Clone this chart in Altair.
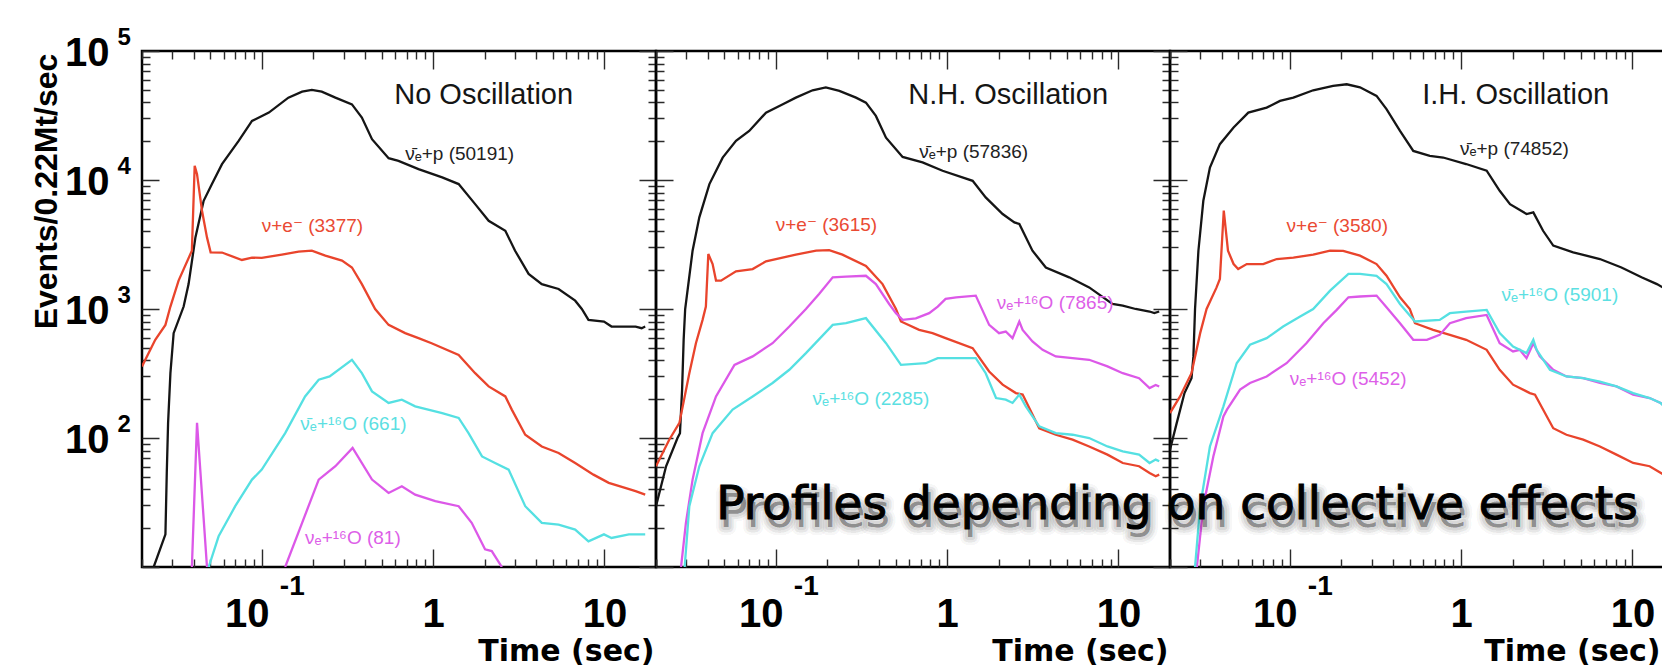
import altair as alt
import pandas as pd

# ---------------- data ----------------
# Panel 1 : No Oscillation
P1_BLACK_T = [0.0234, 0.0274, 0.0279, 0.0284, 0.0293, 0.0306, 0.035, 0.0374, 0.041, 0.0458, 0.0512, 0.0586, 0.0733,
              0.0877, 0.110, 0.143, 0.172, 0.196, 0.224, 0.269, 0.336, 0.384, 0.440, 0.550, 0.628, 0.822, 1.13, 1.41,
              1.76, 2.11, 2.64, 3.01, 3.61, 4.31, 5.40, 6.75, 7.38, 8.07, 9.94, 11.0, 15.2, 16.5, 17.3]
P1_BLACK_V = [10, 17.9, 53.6, 131, 318, 650, 1045, 1560, 3590, 6900, 9300, 13270, 20100,
              28700, 33300, 43500, 48400, 49900, 48400, 43500, 38600, 30500, 20700, 14760, 14080, 12130, 10470, 9300,
              6500, 4830, 4040, 2830, 1870, 1560, 1430, 1160, 1000, 824, 800, 731, 731, 710, 731]
P1_RED_T = [0.02, 0.0239, 0.0274, 0.0293, 0.0327, 0.0391, 0.0406, 0.0419, 0.0448, 0.0479, 0.0503, 0.0586, 0.0766,
            0.0877, 0.100, 0.131, 0.164, 0.196, 0.235, 0.294, 0.336, 0.384, 0.459, 0.550, 0.687, 0.822, 0.98, 1.41,
            1.76, 2.11, 2.64, 2.88, 3.45, 4.31, 5.40, 6.75, 8.63, 10.6, 13.2, 15.2, 17.3]
P1_RED_V = [359, 577, 753, 1045, 1660, 2830, 12880, 11100, 5780, 3590, 2750, 2740, 2400,
            2500, 2490, 2640, 2780, 2830, 2590, 2370, 2100, 1560, 1000, 753, 650, 594, 543, 441,
            318, 251, 210, 166, 106, 86, 76.6, 64, 52, 44.9, 41, 38.7, 36.4]
P1_CYAN_T = [0.049, 0.056, 0.070, 0.0877, 0.100, 0.137, 0.179, 0.215, 0.249, 0.336, 0.384, 0.44, 0.55, 0.657, 0.786,
             1.13, 1.41, 1.61, 1.93, 2.30, 2.76, 3.45, 4.31, 5.40, 6.75, 8.07, 9.94, 11.0, 13.9, 17.3]
P1_CYAN_V = [10, 17.3, 29.6, 47.6, 56.9, 109, 210, 283, 300, 404, 318, 230, 187, 198, 176,
             156, 143, 109, 72, 64, 56.9, 29.6, 22, 21.3, 19.5, 15.8, 17.9, 16.8, 17.9, 17.9]
P1_MAG_SPIKE_T = [0.0391, 0.0419, 0.0479]
P1_MAG_SPIKE_V = [10, 131, 10]
P1_MAG_T = [0.137, 0.172, 0.215, 0.269, 0.339, 0.44, 0.55, 0.657, 0.786, 1.03, 1.41, 1.68, 2.01, 2.2, 2.52]
P1_MAG_V = [10, 22, 47.6, 60.4, 83.7, 47.6, 37.5, 42.3, 36.4, 32.4, 29.6, 22, 13.7, 13.3, 10]

# Panel 2 : N.H. Oscillation
P2_BLACK_T = [0.02, 0.0229, 0.0267, 0.0276, 0.0284, 0.029, 0.0296, 0.0327, 0.0358, 0.041, 0.049, 0.0586, 0.070,
              0.0877, 0.110, 0.131, 0.164, 0.196, 0.235, 0.294, 0.336, 0.384, 0.44, 0.55, 0.719, 0.941, 1.41, 1.68,
              2.11, 2.47, 2.64, 3.15, 3.77, 5.16, 6.75, 9.23, 10.6, 12.6, 15.2, 16.2, 17.3]
P2_BLACK_V = [29.6, 60.4, 100, 109, 237, 577, 1000, 2830, 5130, 9300, 14900, 20100, 24000,
              33300, 38600, 43500, 49600, 52300, 49000, 43500, 39800, 31400, 21300, 15100, 13700, 11800, 9860, 7330,
              5450, 4690, 4560, 2830, 2100, 1760, 1470, 1094, 1060, 1000, 956, 930, 956]
P2_RED_T = [0.02, 0.0239, 0.0274, 0.0313, 0.0342, 0.0374, 0.0391, 0.0404, 0.0428, 0.0448, 0.0479, 0.0586, 0.0733,
            0.0877, 0.131, 0.172, 0.205, 0.245, 0.336, 0.42, 0.503, 0.538, 0.687, 0.822, 0.98, 1.41, 1.76, 2.11,
            2.52, 2.76, 3.45, 4.31, 5.4, 6.75, 8.63, 10.6, 13.2, 15.2, 16.5, 17.3]
P2_RED_V = [60.4, 97, 131, 318, 543, 824, 1045, 2670, 2230, 1660, 1660, 1960, 2040,
            2340, 2640, 2830, 2860, 2640, 2160, 1560, 1000, 800, 689, 650, 594, 497, 328, 259,
            223, 217, 119, 106, 97, 86, 74.3, 64, 60.4, 53.6, 50.5, 52]
P2_MAG_T = [0.028, 0.0299, 0.0327, 0.0374, 0.0448, 0.0574, 0.0733, 0.0958, 0.12, 0.15, 0.179, 0.215, 0.257, 0.336,
            0.384, 0.459, 0.503, 0.55, 0.657, 0.786, 0.882, 0.98, 1.13, 1.47, 1.76, 2.01, 2.2, 2.41, 2.64, 2.76,
            3.15, 3.61, 4.31, 5.4, 6.75, 8.63, 10.6, 13.2, 15.2, 16.5, 17.3]
P2_MAG_V = [10, 22, 47.6, 109, 210, 369, 429, 543, 731, 1000, 1309, 1760, 1780, 1810,
            1560, 1094, 928, 824, 845, 928, 1045, 1197, 1230, 1270, 753, 650, 669, 594, 800, 689,
            560, 483, 429, 416, 404, 359, 318, 291, 244, 258, 251]
P2_CYAN_T = [0.0294, 0.0313, 0.0358, 0.0428, 0.056, 0.0733, 0.0958, 0.12, 0.15, 0.215, 0.257, 0.336, 0.44, 0.538,
             0.75, 0.882, 1.13, 1.47, 1.68, 1.93, 2.2, 2.41, 2.64, 2.88, 3.45, 4.31, 5.4, 6.75, 8.63, 10.6,
             13.2, 15.2, 16.5, 17.3]
P2_CYAN_V = [10, 29.6, 60.4, 109, 166, 210, 267, 338, 455, 753, 776, 849, 543, 369,
             380, 416, 416, 416, 318, 204, 198, 187, 217, 176, 123, 109, 106, 100, 86, 78.9,
             74.3, 64, 68, 66]

# Panel 3 : I.H. Oscillation
P3_BLACK_T = [0.02, 0.0219, 0.0243, 0.0267, 0.0274, 0.028, 0.0293, 0.0313, 0.0342, 0.0391, 0.047, 0.0573, 0.0733,
              0.0877, 0.105, 0.137, 0.179, 0.215, 0.257, 0.321, 0.367, 0.44, 0.526, 0.657, 0.786, 1.07, 1.41, 1.68,
              1.93, 2.41, 2.64, 3.01, 3.45, 4.51, 6.46, 8.63, 11.3, 13.9, 15.9, 17.0, 17.8]
P3_BLACK_V = [81, 131, 223, 291, 429, 1000, 2830, 6900, 12500, 18960, 25500, 33300, 36400,
              41000, 43500, 49600, 53600, 55200, 52300, 44900, 35400, 24000, 16800, 15400, 14940, 13300, 11800, 8250,
              6500, 5450, 5610, 4040, 3100, 2750, 2440, 2100, 1760, 1560, 1406, 1430, 1390]
P3_RED_T = [0.02, 0.0229, 0.0267, 0.03, 0.0327, 0.0374, 0.0391, 0.0412, 0.0436, 0.047, 0.05, 0.0561, 0.07, 0.084,
            0.105, 0.137, 0.172, 0.205, 0.257, 0.321, 0.367, 0.44, 0.502, 0.538, 0.687, 0.86, 1.07, 1.41, 1.68,
            2.01, 2.52, 2.7, 3.45, 4.12, 5.16, 6.46, 8.07, 10.1, 12.6, 15.2, 16.5, 17.3]
P3_RED_V = [156, 210, 318, 650, 1000, 1470, 1710, 5800, 2830, 2230, 2040, 2230, 2230, 2440,
            2500, 2640, 2830, 2820, 2590, 2230, 1810, 1233, 1000, 776, 689, 631, 577, 483, 338,
            259, 223, 217, 119, 106, 97, 86, 74.3, 64, 60.4, 52, 49, 50.5]
P3_MAG_T = [0.0287, 0.0313, 0.0358, 0.041, 0.043, 0.0513, 0.0586, 0.0733, 0.0958, 0.125, 0.157, 0.188, 0.22, 0.257,
            0.321, 0.367, 0.44, 0.526, 0.631, 0.75, 0.86, 1.07, 1.41, 1.68, 2.01, 2.2, 2.41, 2.64, 2.88, 3.45,
            4.12, 5.16, 6.46, 8.07, 10.1, 12.6, 14.6, 15.9, 17.0]
P3_MAG_V = [10, 29.6, 72, 147, 166, 237, 267, 300, 380, 543, 776, 984, 1233, 1250,
            1270, 1030, 776, 577, 577, 630, 776, 848, 900, 543, 469, 483, 416, 543, 429, 338,
            300, 291, 267, 251, 217, 204, 187, 170, 176]
P3_CYAN_T = [0.028, 0.03, 0.0342, 0.041, 0.049, 0.0586, 0.0733, 0.0915, 0.115, 0.137, 0.172, 0.22, 0.257, 0.321,
             0.367, 0.44, 0.538, 0.75, 0.86, 1.07, 1.41, 1.68, 2.01, 2.2, 2.41, 2.64, 2.76, 3.3, 4.12, 5.16,
             6.46, 8.07, 10.1, 12.6, 14.6, 15.9, 17.0]
P3_CYAN_V = [10, 29.6, 86, 176, 380, 528, 594, 731, 874, 1000, 1388, 1870, 1870, 1810,
             1560, 1094, 800, 824, 928, 956, 984, 650, 512, 483, 455, 577, 483, 338, 300, 291,
             274, 251, 223, 204, 187, 166, 176]

# annotation texts (label, series, t, v) per panel
NUBAR = "\u03bd\u0304\u2091"
NUE = "\u03bd\u2091"
O16 = "\u00b9\u2076O"
PANEL_TITLES = ["No Oscillation", "N.H. Oscillation", "I.H. Oscillation"]
TITLE_T = 0.593
TITLE_V = 39100
ANN = [
    [(NUBAR + "+p (50191)", "black", 0.687, 14250),
     ("\u03bd+e\u207b (3377)", "red", 0.100, 3930),
     (NUBAR + "+" + O16 + " (661)", "cyan", 0.168, 114.6),
     (NUE + "+" + O16 + " (81)", "magenta", 0.179, 15.2)],
    [(NUBAR + "+p (57836)", "black", 0.687, 14940),
     ("\u03bd+e\u207b (3615)", "red", 0.100, 4040),
     (NUE + "+" + O16 + " (7865)", "magenta", 1.95, 1007),
     (NUBAR + "+" + O16 + " (2285)", "cyan", 0.164, 181)],
    [(NUBAR + "+p (74852)", "black", 0.984, 15670),
     ("\u03bd+e\u207b (3580)", "red", 0.0958, 3930),
     (NUBAR + "+" + O16 + " (5901)", "cyan", 1.72, 1160),
     (NUE + "+" + O16 + " (5452)", "magenta", 0.100, 259)],
]
OVERLAY_TEXT = "Profiles depending on collective effects"
OVERLAY_T = 4.5e-5   # lies left of panel 3 (log-scale extrapolation)
OVERLAY_V = 23.4

PANELS = [
    {"black": [(P1_BLACK_T, P1_BLACK_V)], "red": [(P1_RED_T, P1_RED_V)],
     "magenta": [(P1_MAG_SPIKE_T, P1_MAG_SPIKE_V), (P1_MAG_T, P1_MAG_V)], "cyan": [(P1_CYAN_T, P1_CYAN_V)]},
    {"black": [(P2_BLACK_T, P2_BLACK_V)], "red": [(P2_RED_T, P2_RED_V)],
     "magenta": [(P2_MAG_T, P2_MAG_V)], "cyan": [(P2_CYAN_T, P2_CYAN_V)]},
    {"black": [(P3_BLACK_T, P3_BLACK_V)], "red": [(P3_RED_T, P3_RED_V)],
     "magenta": [(P3_MAG_T, P3_MAG_V)], "cyan": [(P3_CYAN_T, P3_CYAN_V)]},
]

# ---------------- styling ----------------
H = 516
# the third panel is cut by the right edge of the slide: same scale, shorter visible range
PANEL_W = [514, 514, 492]
X_MAX = [20, 20, 14.88]
YS = alt.Scale(type="log", domain=[10, 100000], nice=False)
COLORS = {"black": "#151515", "red": "#e9442c", "magenta": "#dc58e8", "cyan": "#55e0e2"}
LABEL_COLORS = {"black": "#222222", "red": "#ea4a33", "magenta": "#dd5fe8", "cyan": "#5cdfe2"}
SERIES_ORDER = ["black", "red", "magenta", "cyan"]
LABEL_SCALE = alt.Scale(domain=SERIES_ORDER, range=[LABEL_COLORS[s] for s in SERIES_ORDER])
BOLD = "Liberation Sans"
LFONT = "Liberation Sans, DejaVu Sans"
TICKC = "#2a2a2a"

X_MAJ = [0.1, 1, 10]
X_MIN = [0.02, 0.03, 0.04, 0.05, 0.06, 0.07, 0.08, 0.09, 0.2, 0.3, 0.4, 0.5, 0.6, 0.7, 0.8, 0.9,
         2, 3, 4, 5, 6, 7, 8, 9, 20]
Y_DEC = [100, 1000, 10000, 100000]
Y_MIN = [m * d for d in (10, 100, 1000, 10000) for m in range(2, 10)]
IS_DEC = "abs(log(datum.value) / LN10 - round(log(datum.value) / LN10)) < 0.000001"

COMMON = dict(ticks=False, tickSize=0, domain=False, labelFlush=False, labelOverlap=False, labelBound=False,
              grid=True, gridColor=TICKC, gridWidth=1.4)


def x_axes(w, xmax):
    lab = alt.Axis(orient="bottom", values=X_MAJ,
                   labelExpr="datum.value < 0.5 ? '10' : (datum.value < 5 ? '1' : '10')",
                   labelFont=BOLD, labelFontWeight="bold", labelFontSize=40, labelColor="black",
                   labelBaseline="alphabetic", labelAlign="center", labelPadding=59,
                   labelOffset={"condition": {"test": "datum.value < 0.5", "value": -15}, "value": 0},
                   gridDash=[18, H - 36],
                   title="Time (sec)", titleFont="DejaVu Sans", titleFontWeight="bold", titleFontSize=30,
                   titleColor="black", titleX=w - 2, titleY=93, titleAlign="right",
                   titleBaseline="alphabetic", titleAngle=0, **COMMON)
    exp = alt.Axis(orient="bottom", values=[0.1] + [v for v in X_MIN if v <= xmax],
                   labelExpr="abs(datum.value - 0.1) < 0.000001 ? '-1' : ''",
                   labelFont=BOLD, labelFontWeight="bold", labelFontSize=28, labelColor="black",
                   labelBaseline="alphabetic", labelAlign="center", labelPadding=27, labelOffset=30,
                   gridDash=[8, H - 16],
                   gridOpacity={"condition": {"test": "abs(datum.value - 0.1) < 0.000001", "value": 0},
                                "value": 1},
                   title=None, **COMMON)
    return lab, exp


def y_axes(show, w, both_sides):
    maj_dash = [17, w - 34] if both_sides else [17, 3000]
    min_dash = [8, w - 16] if both_sides else [8, 3000]
    lab = alt.Axis(orient="left", values=[10] + Y_DEC,
                   labelExpr="datum.value < 50 ? '' : '10'" if show else "''",
                   labelFont=BOLD, labelFontWeight="bold", labelFontSize=40, labelColor="black",
                   labelAlign="right", labelBaseline="middle", labelPadding=33, labelOffset=2,
                   gridDash=maj_dash,
                   title="Events/0.22Mt/sec" if show else None,
                   titleFont=BOLD, titleFontWeight="bold", titleFontSize=32,
                   titleColor="black", titleAngle=270, titleX=-86, titleY=140, titleAlign="center",
                   titleBaseline="alphabetic", **COMMON)
    exp = alt.Axis(orient="left", values=Y_DEC + Y_MIN,
                   labelExpr=(IS_DEC + " ? '' + round(log(datum.value) / LN10) : ''") if show else "''",
                   labelFont=BOLD, labelFontWeight="bold", labelFontSize=24, labelColor="black",
                   labelAlign="left", labelBaseline="middle", labelPadding=25, labelOffset=-14,
                   gridDash=min_dash,
                   gridOpacity={"condition": {"test": IS_DEC, "value": 0}, "value": 1},
                   title=None, **COMMON)
    return lab, exp


def build_panel(i):
    series = PANELS[i]
    w = PANEL_W[i]
    xs = alt.Scale(type="log", domain=[0.02, X_MAX[i]], nice=False)
    x_lab, x_exp = x_axes(w, X_MAX[i])
    y_lab, y_exp = y_axes(i == 0, w, i < 2)
    xax = [x_lab, x_exp, None, None]
    yax = [y_lab, y_exp, None, None]

    layers = []
    for k, name in enumerate(SERIES_ORDER):
        rows = []
        for seg, (ts, vs) in enumerate(series[name]):
            for t, v in zip(ts, vs):
                rows.append({"t": t, "v": v, "seg": seg})
        df = pd.DataFrame(rows)
        layers.append(
            alt.Chart(df).mark_line(color=COLORS[name], strokeWidth=2.3, clip=True).encode(
                x=alt.X("t:Q", scale=xs, axis=xax[k]),
                y=alt.Y("v:Q", scale=YS, axis=yax[k]),
                detail="seg:N",
            )
        )

    tdf = pd.DataFrame({"t": [TITLE_T], "v": [TITLE_V], "label": [PANEL_TITLES[i]]})
    layers.append(
        alt.Chart(tdf).mark_text(align="left", baseline="alphabetic", font=LFONT, fontSize=29,
                                 color="#151515").encode(
            x=alt.X("t:Q", scale=xs, axis=None),
            y=alt.Y("v:Q", scale=YS, axis=None),
            text="label:N",
        )
    )

    adf = pd.DataFrame(ANN[i], columns=["label", "series", "t", "v"])
    layers.append(
        alt.Chart(adf).mark_text(align="left", baseline="alphabetic", font=LFONT, fontSize=19).encode(
            x=alt.X("t:Q", scale=xs, axis=None),
            y=alt.Y("v:Q", scale=YS, axis=None),
            text="label:N",
            color=alt.Color("series:N", scale=LABEL_SCALE, legend=None),
        )
    )

    if i == 2:
        odf = pd.DataFrame({"t": [OVERLAY_T], "v": [OVERLAY_V], "label": [OVERLAY_TEXT]})
        for sw, op in [(16, 0.04), (11, 0.06), (6, 0.08)]:
            layers.append(
                alt.Chart(odf).mark_text(align="left", baseline="alphabetic", font="DejaVu Sans",
                                         fontSize=47, dx=3, dy=8, color="black", fillOpacity=0.15,
                                         stroke="black", strokeWidth=sw, strokeOpacity=op,
                                         strokeJoin="round").encode(
                    x=alt.X("t:Q", scale=xs, axis=None),
                    y=alt.Y("v:Q", scale=YS, axis=None),
                    text="label:N",
                )
            )
        layers.append(
            alt.Chart(odf).mark_text(align="left", baseline="alphabetic", font="DejaVu Sans",
                                     fontSize=47, color="black", stroke="black", strokeWidth=1.1).encode(
                x=alt.X("t:Q", scale=xs, axis=None),
                y=alt.Y("v:Q", scale=YS, axis=None),
                text="label:N",
            )
        )

    view = {"stroke": "black", "strokeWidth": 2.5}
    if i == 2:
        # frame path runs top, right, bottom, left: leave the (cut-off) right edge undrawn
        view["strokeDash"] = [w, H, w + H + 20, 0]
    return alt.layer(*layers).resolve_axis(x="independent", y="independent").properties(
        width=w, height=H, view=view)


chart = alt.hconcat(build_panel(0), build_panel(1), build_panel(2), spacing=0, bounds="flush").configure_view(
    stroke="black", strokeWidth=2.5
).properties(
    padding={"left": 20, "top": 15, "right": 0, "bottom": 0},
    background="white",
)

chart.save("out.html", embed_options={"renderer": "svg", "actions": False})
